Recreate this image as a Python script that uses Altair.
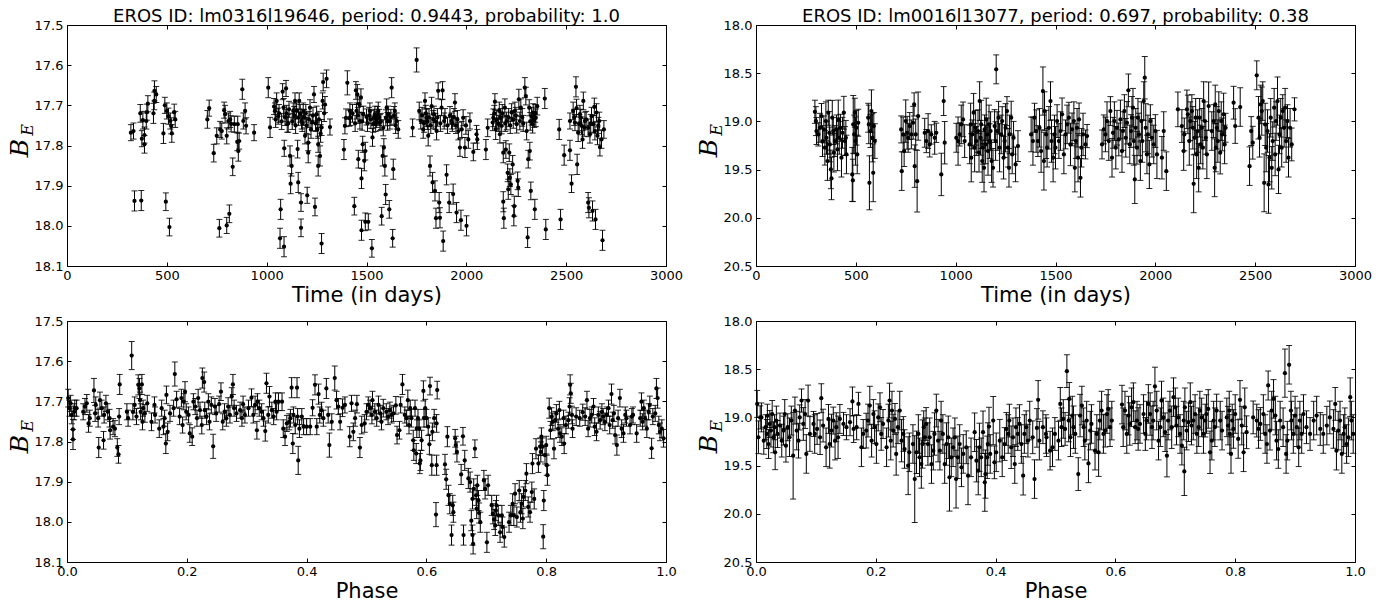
import altair as alt
import pandas as pd

# ---------------- top-left: lm0316l19646, time series ----------------
t_tl = [
    320, 333, 338, 367, 372, 375, 380, 388, 388, 397,
    400, 405, 433, 437, 438, 447, 483, 490, 495, 500,
    508, 513, 517, 522, 525, 537, 542, 703, 712, 735,
    750, 763, 767, 775, 787, 792, 800, 800, 808, 813,
    817, 822, 830, 838, 853, 855, 858, 862, 878, 883,
    892, 897, 937, 1008, 1017, 1037, 1042, 1050, 1058, 1067,
    1070, 1080, 1087, 1088, 1097, 1103, 1117, 1120, 1125, 1133,
    1142, 1150, 1155, 1158, 1163, 1172, 1172, 1175, 1183, 1192,
    1203, 1208, 1208, 1217, 1228, 1237, 1242, 1250, 1258, 1258,
    1267, 1275, 1275, 1280, 1283, 1292, 1300, 1317, 1045, 1062,
    1075, 1085, 1092, 1100, 1108, 1112, 1128, 1138, 1145, 1160,
    1168, 1178, 1187, 1196, 1200, 1212, 1222, 1232, 1245, 1254,
    1262, 1270, 1288, 1387, 1392, 1397, 1404, 1414, 1417, 1439,
    1447, 1450, 1454, 1459, 1464, 1467, 1472, 1475, 1475, 1481,
    1484, 1489, 1494, 1494, 1500, 1509, 1517, 1527, 1530, 1534,
    1542, 1551, 1559, 1567, 1576, 1581, 1584, 1587, 1592, 1596,
    1597, 1601, 1609, 1614, 1617, 1626, 1631, 1634, 1642, 1651,
    1659, 1420, 1430, 1443, 1457, 1478, 1505, 1513, 1522, 1538,
    1546, 1555, 1563, 1572, 1605, 1622, 1638, 1646, 1731, 1751,
    1764, 1772, 1784, 1793, 1801, 1809, 1818, 1826, 1831, 1838,
    1843, 1848, 1851, 1859, 1864, 1868, 1876, 1881, 1884, 1889,
    1901, 1914, 1926, 1934, 1943, 1951, 1960, 1968, 1973, 1984,
    1993, 2001, 2010, 2018, 2035, 2051, 2055, 1778, 1788, 1797,
    1805, 1813, 1822, 1834, 1845, 1855, 1870, 1893, 1906, 1918,
    1930, 1938, 1948, 1955, 1977, 1998, 2098, 2107, 2132, 2135,
    2143, 2147, 2165, 2168, 2177, 2185, 2185, 2188, 2193, 2198,
    2202, 2207, 2210, 2215, 2218, 2223, 2227, 2232, 2238, 2240,
    2243, 2252, 2257, 2260, 2263, 2268, 2273, 2293, 2298, 2302,
    2307, 2310, 2315, 2318, 2323, 2327, 2332, 2335, 2343, 2348,
    2355, 2393, 2398, 2140, 2152, 2160, 2172, 2180, 2195, 2212,
    2220, 2235, 2248, 2280, 2285, 2320, 2340, 2345, 2465, 2472,
    2490, 2519, 2519, 2527, 2535, 2544, 2549, 2552, 2555, 2560,
    2569, 2577, 2582, 2586, 2594, 2610, 2610, 2614, 2619, 2627,
    2632, 2636, 2641, 2644, 2647, 2652, 2657, 2666, 2669, 2677,
    2682, 2689, 2540, 2565, 2573, 2590, 2600, 2623, 2661,
]
m_tl = [
    17.768, 17.764, 17.938, 17.72, 17.937, 17.783, 17.737, 17.774, 17.797, 17.739,
    17.717, 17.696, 17.72, 17.689, 17.664, 17.673, 17.77, 17.70, 17.94, 17.714,
    17.727, 18.003, 17.739, 17.751, 17.77, 17.717, 17.735, 17.735, 17.707, 17.819,
    17.776, 18.006, 17.76, 17.764, 17.712, 17.722, 17.999, 17.776, 17.739, 17.97,
    17.735, 17.746, 17.853, 17.747, 17.791, 17.747, 17.814, 17.789, 17.66, 17.739,
    17.714, 17.751, 17.768, 17.656, 17.755, 17.703, 17.714, 17.689, 17.727, 18.031,
    17.959, 17.666, 18.052, 17.807, 17.658, 17.747, 17.826, 17.895, 17.851, 17.714,
    17.689, 17.714, 17.809, 17.892, 17.689, 17.942, 18.005, 17.739, 17.714, 17.776,
    17.924, 17.818, 17.793, 17.706, 17.743, 17.673, 17.953, 17.722, 17.797, 17.851,
    17.826, 18.044, 17.755, 17.689, 17.642, 17.698, 17.634, 17.754, 17.735, 17.72,
    17.74, 17.705, 17.73, 17.72, 17.745, 17.71, 17.74, 17.725, 17.75, 17.73,
    17.72, 17.745, 17.73, 17.72, 17.75, 17.735, 17.76, 17.725, 17.745, 17.76,
    17.735, 17.77, 17.72, 17.81, 17.751, 17.731, 17.644, 17.732, 17.714, 17.951,
    17.663, 17.714, 17.673, 17.834, 17.697, 17.739, 17.681, 17.882, 18.011, 17.797,
    17.722, 17.838, 17.814, 17.99, 17.729, 17.99, 17.714, 18.056, 17.78, 17.747,
    17.722, 17.735, 17.714, 17.743, 17.976, 17.826, 17.756, 17.805, 17.851, 17.922,
    17.731, 17.706, 17.722, 17.959, 17.739, 17.656, 18.031, 17.859, 17.714, 17.739,
    17.76, 17.73, 17.72, 17.745, 17.725, 17.74, 17.745, 17.725, 17.735, 17.73,
    17.745, 17.725, 17.73, 17.74, 17.74, 17.73, 17.725, 17.75, 17.756, 17.587,
    17.714, 17.739, 17.76, 17.689, 17.731, 17.776, 17.851, 17.702, 17.892, 17.722,
    17.913, 17.981, 17.764, 17.664, 17.942, 17.98, 17.706, 17.663, 18.038, 17.739,
    17.873, 17.942, 17.739, 17.921, 17.693, 17.967, 17.764, 17.805, 17.986, 17.731,
    17.805, 18.0, 17.785, 17.739, 17.816, 17.772, 17.785, 17.725, 17.745, 17.72,
    17.74, 17.73, 17.75, 17.735, 17.74, 17.73, 17.745, 17.73, 17.75, 17.725,
    17.745, 17.73, 17.75, 17.735, 17.76, 17.75, 17.81, 17.756, 17.743, 17.731,
    17.691, 17.76, 17.714, 17.772, 17.751, 17.818, 17.94, 17.981, 17.706, 17.81,
    17.739, 17.868, 17.909, 17.818, 17.88, 17.897, 17.718, 17.847, 17.975, 17.951,
    17.714, 17.747, 17.888, 17.905, 17.685, 17.739, 17.706, 17.656, 17.677, 17.764,
    18.029, 17.834, 17.706, 17.814, 17.913, 17.727, 17.747, 17.718, 17.959, 17.731,
    17.702, 17.683, 18.009, 17.72, 17.735, 17.745, 17.73, 17.72, 17.745, 17.73,
    17.75, 17.735, 17.725, 17.73, 17.745, 17.74, 17.735, 17.72, 17.76, 17.984,
    17.824, 17.812, 17.739, 17.895, 17.714, 17.743, 17.654, 17.707, 17.847, 17.768,
    17.722, 17.751, 17.785, 17.689, 17.739, 17.942, 17.756, 17.955, 17.772, 17.727,
    17.963, 17.747, 17.704, 17.764, 17.984, 17.718, 17.776, 17.739, 17.804, 17.785,
    18.036, 17.76, 17.73, 17.745, 17.73, 17.755, 17.735, 17.745, 17.75,
]
e_tl = [
    .02, .02, .025, .022, .025, .02, .022, .02, .022, .02,
    .02, .02, .025, .022, .025, .02, .025, .02, .022, .02,
    .02, .022, .02, .02, .022, .02, .02, .022, .02, .022,
    .02, .022, .02, .02, .02, .022, .02, .02, .02, .022,
    .02, .02, .022, .02, .022, .02, .025, .02, .025, .02,
    .02, .02, .02, .025, .025, .02, .02, .02, .02, .025,
    .025, .02, .025, .02, .02, .02, .025, .025, .025, .02,
    .02, .02, .022, .025, .02, .022, .022, .02, .02, .02,
    .02, .025, .02, .02, .02, .02, .022, .02, .02, .025,
    .025, .025, .02, .02, .022, .02, .022, .02, .02, .022,
    .02, .022, .02, .02, .022, .02, .02, .022, .02, .02,
    .022, .02, .02, .022, .02, .02, .022, .02, .02, .022,
    .02, .022, .02, .025, .02, .022, .03, .02, .02, .022,
    .022, .02, .025, .022, .02, .02, .022, .025, .025, .02,
    .02, .025, .022, .022, .02, .02, .02, .022, .022, .02,
    .02, .02, .022, .02, .022, .025, .02, .022, .025, .025,
    .02, .022, .02, .022, .02, .025, .022, .025, .02, .02,
    .022, .02, .022, .02, .02, .022, .02, .02, .022, .02,
    .02, .022, .02, .02, .022, .02, .022, .02, .022, .03,
    .022, .02, .022, .02, .022, .025, .025, .022, .025, .02,
    .025, .025, .022, .02, .025, .025, .02, .022, .025, .02,
    .025, .025, .02, .025, .022, .025, .022, .022, .025, .02,
    .025, .025, .022, .02, .022, .022, .025, .02, .022, .02,
    .02, .022, .02, .022, .02, .022, .02, .022, .02, .022,
    .02, .022, .02, .022, .02, .022, .025, .022, .02, .022,
    .02, .025, .022, .022, .02, .025, .025, .025, .022, .022,
    .022, .022, .025, .022, .022, .025, .022, .022, .025, .025,
    .022, .022, .022, .022, .025, .022, .022, .025, .022, .022,
    .025, .022, .02, .022, .022, .022, .022, .022, .025, .022,
    .022, .025, .025, .02, .022, .02, .022, .022, .02, .022,
    .02, .022, .02, .022, .02, .022, .02, .022, .025, .025,
    .025, .025, .02, .022, .022, .02, .025, .022, .025, .022,
    .022, .022, .022, .022, .022, .025, .022, .025, .022, .022,
    .025, .022, .022, .022, .025, .022, .022, .022, .022, .022,
    .025, .022, .02, .022, .02, .022, .02, .022, .02,
]

# ---------------- bottom-left: lm0316l19646, folded ----------------
p_bl = [
    0.002, 0.004, 0.006, 0.008, 0.010, 0.010, 0.012, 0.013, 0.016, 0.027,
    0.030, 0.033, 0.036, 0.038, 0.045, 0.047, 0.048, 0.052, 0.053, 0.055,
    0.058, 0.061, 0.062, 0.065, 0.068, 0.071, 0.072, 0.077, 0.080, 0.084,
    0.086, 0.087, 0.088, 0.100, 0.102, 0.108, 0.110, 0.113, 0.116, 0.119,
    0.121, 0.122, 0.123, 0.125, 0.126, 0.127, 0.130, 0.134, 0.141, 0.146,
    0.147, 0.154, 0.158, 0.161, 0.163, 0.165, 0.166, 0.168, 0.172, 0.178,
    0.180, 0.183, 0.188, 0.191, 0.193, 0.195, 0.197, 0.199, 0.203, 0.205,
    0.209, 0.211, 0.214, 0.217, 0.219, 0.222, 0.225, 0.226, 0.229, 0.230,
    0.233, 0.236, 0.238, 0.241, 0.244, 0.247, 0.249, 0.254, 0.257, 0.260,
    0.263, 0.266, 0.269, 0.272, 0.275, 0.277, 0.279, 0.283, 0.289, 0.292,
    0.294, 0.297, 0.303, 0.308, 0.311, 0.314, 0.317, 0.318, 0.321, 0.325,
    0.328, 0.331, 0.333, 0.336, 0.338, 0.342, 0.345, 0.348, 0.350, 0.353,
    0.359, 0.361, 0.364, 0.367, 0.371, 0.373, 0.375, 0.377, 0.378, 0.381,
    0.384, 0.385, 0.386, 0.388, 0.392, 0.395, 0.400, 0.406, 0.410, 0.414,
    0.417, 0.420, 0.422, 0.425, 0.428, 0.433, 0.436, 0.438, 0.442, 0.447,
    0.450, 0.453, 0.456, 0.460, 0.464, 0.472, 0.475, 0.478, 0.481, 0.484,
    0.489, 0.492, 0.497, 0.500, 0.503, 0.506, 0.509, 0.510, 0.514, 0.517,
    0.520, 0.523, 0.525, 0.528, 0.533, 0.536, 0.539, 0.542, 0.545, 0.549,
    0.551, 0.555, 0.557, 0.560, 0.564, 0.567, 0.569, 0.571, 0.573, 0.575,
    0.578, 0.579, 0.581, 0.583, 0.584, 0.586, 0.588, 0.589, 0.590, 0.592,
    0.595, 0.596, 0.598, 0.600, 0.603, 0.605, 0.606, 0.609, 0.610, 0.613,
    0.616, 0.617, 0.618, 0.617, 0.631, 0.633, 0.635, 0.637, 0.639, 0.642,
    0.644, 0.645, 0.648, 0.649, 0.651, 0.658, 0.661, 0.662, 0.664, 0.670,
    0.673, 0.675, 0.677, 0.677, 0.678, 0.679, 0.681, 0.683, 0.684, 0.685,
    0.687, 0.688, 0.690, 0.696, 0.698, 0.701, 0.703, 0.709, 0.711, 0.713,
    0.715, 0.716, 0.717, 0.720, 0.723, 0.726, 0.727, 0.730, 0.738, 0.741,
    0.744, 0.746, 0.748, 0.751, 0.755, 0.757, 0.759, 0.761, 0.762, 0.765,
    0.767, 0.770, 0.773, 0.776, 0.777, 0.780, 0.783, 0.787, 0.790, 0.791,
    0.792, 0.794, 0.795, 0.796, 0.798, 0.800, 0.801, 0.802, 0.805, 0.807,
    0.809, 0.811, 0.813, 0.815, 0.817, 0.820, 0.822, 0.823, 0.826, 0.829,
    0.830, 0.833, 0.837, 0.839, 0.840, 0.841, 0.843, 0.844, 0.850, 0.856,
    0.861, 0.865, 0.868, 0.870, 0.873, 0.876, 0.879, 0.881, 0.884, 0.887,
    0.890, 0.893, 0.895, 0.898, 0.901, 0.904, 0.906, 0.909, 0.911, 0.913,
    0.915, 0.918, 0.920, 0.923, 0.926, 0.929, 0.932, 0.934, 0.940, 0.943,
    0.945, 0.951, 0.957, 0.959, 0.961, 0.963, 0.965, 0.968, 0.971, 0.973,
    0.976, 0.978, 0.982, 0.984, 0.986, 0.988, 0.990, 0.993, 0.996,
]
m_bl = [
    17.692, 17.717, 17.705, 17.734, 17.77, 17.795, 17.726, 17.717, 17.717, 17.726,
    17.713, 17.705, 17.755, 17.742, 17.673, 17.73, 17.709, 17.742, 17.815, 17.697,
    17.717, 17.797, 17.734, 17.705, 17.726, 17.742, 17.772, 17.763, 17.768, 17.815,
    17.832, 17.738, 17.658, 17.726, 17.742, 17.586, 17.726, 17.709, 17.738, 17.659,
    17.668, 17.697, 17.726, 17.658, 17.751, 17.717, 17.73, 17.705, 17.751, 17.709,
    17.734, 17.768, 17.717, 17.763, 17.742, 17.805, 17.684, 17.776, 17.73, 17.717,
    17.632, 17.695, 17.738, 17.692, 17.759, 17.701, 17.676, 17.726, 17.734, 17.78,
    17.788, 17.701, 17.713, 17.742, 17.692, 17.722, 17.759, 17.642, 17.652, 17.722,
    17.738, 17.701, 17.751, 17.709, 17.812, 17.713, 17.73, 17.707, 17.676, 17.751,
    17.726, 17.742, 17.713, 17.734, 17.688, 17.658, 17.717, 17.73, 17.722, 17.742,
    17.707, 17.734, 17.717, 17.691, 17.734, 17.709, 17.772, 17.701, 17.717, 17.726,
    17.742, 17.774, 17.655, 17.734, 17.688, 17.722, 17.738, 17.701, 17.726, 17.701,
    17.701, 17.768, 17.788, 17.755, 17.751, 17.742, 17.666, 17.805, 17.734, 17.759,
    17.666, 17.738, 17.847, 17.768, 17.738, 17.763, 17.763, 17.763, 17.716, 17.659,
    17.763, 17.682, 17.734, 17.722, 17.742, 17.668, 17.734, 17.809, 17.751, 17.642,
    17.697, 17.713, 17.751, 17.716, 17.709, 17.788, 17.705, 17.776, 17.742, 17.707,
    17.815, 17.759, 17.755, 17.726, 17.709, 17.717, 17.734, 17.697, 17.726, 17.742,
    17.709, 17.73, 17.751, 17.717, 17.726, 17.738, 17.722, 17.734, 17.73, 17.71,
    17.784, 17.772, 17.709, 17.658, 17.734, 17.742, 17.697, 17.759, 17.717, 17.742,
    17.797, 17.822, 17.717, 17.83, 17.768, 17.742, 17.768, 17.855, 17.847, 17.797,
    17.674, 17.742, 17.717, 17.742, 17.763, 17.807, 17.662, 17.859, 17.776, 17.742,
    17.982, 17.859, 17.672, 17.755, 17.857, 17.894, 17.788, 17.934, 17.955, 18.033,
    17.959, 17.976, 17.792, 17.809, 17.826, 17.882, 17.787, 18.033, 17.847, 17.892,
    17.901, 17.997, 18.033, 17.943, 18.055, 17.918, 17.818, 17.934, 17.967, 17.909,
    17.947, 17.978, 18.001, 17.897, 17.918, 18.051, 17.909, 17.959, 17.98, 17.994,
    18.009, 17.972, 17.959, 17.984, 18.026, 17.984, 18.013, 18.038, 18.001, 17.984,
    17.955, 17.984, 17.93, 17.988, 17.922, 17.976, 17.955, 17.992, 17.938, 17.922,
    17.88, 17.963, 17.976, 17.926, 17.855, 17.943, 17.818, 17.855, 17.813, 17.826,
    17.788, 17.813, 18.037, 17.947, 17.834, 17.809, 17.859, 17.884, 17.717, 17.772,
    17.738, 17.751, 17.818, 17.747, 17.73, 17.768, 17.722, 17.78, 17.788, 17.742,
    17.805, 17.759, 17.747, 17.713, 17.659, 17.68, 17.734, 17.768, 17.738, 17.742,
    17.727, 17.738, 17.697, 17.768, 17.742, 17.734, 17.713, 17.763, 17.776, 17.734,
    17.747, 17.726, 17.738, 17.751, 17.734, 17.717, 17.759, 17.682, 17.747, 17.73,
    17.784, 17.809, 17.742, 17.692, 17.768, 17.78, 17.734, 17.742, 17.759, 17.738,
    17.734, 17.78, 17.742, 17.701, 17.751, 17.717, 17.742, 17.768, 17.726, 17.709,
    17.817, 17.738, 17.73, 17.668, 17.692, 17.759, 17.776, 17.768, 17.792,
]
e_bl = [
    .022, .02, .02, .022, .025, .025, .02, .02, .02, .02,
    .02, .022, .022, .02, .03, .02, .02, .022, .025, .02,
    .02, .022, .02, .02, .02, .022, .022, .02, .02, .022,
    .022, .02, .025, .02, .02, .035, .02, .02, .02, .025,
    .025, .02, .02, .025, .02, .02, .022, .02, .022, .02,
    .02, .022, .02, .02, .02, .025, .022, .022, .02, .02,
    .03, .02, .02, .022, .02, .02, .025, .02, .02, .022,
    .022, .02, .02, .02, .022, .02, .022, .025, .025, .02,
    .02, .02, .02, .02, .03, .02, .02, .02, .022, .02,
    .02, .02, .022, .02, .022, .025, .02, .02, .02, .02,
    .02, .02, .02, .022, .02, .022, .022, .02, .02, .02,
    .02, .025, .025, .02, .025, .02, .02, .022, .02, .022,
    .022, .022, .022, .02, .02, .022, .025, .025, .02, .022,
    .025, .02, .035, .022, .02, .02, .02, .02, .02, .025,
    .02, .025, .02, .02, .02, .025, .02, .03, .02, .03,
    .022, .02, .02, .022, .02, .025, .02, .022, .02, .022,
    .025, .022, .022, .02, .02, .02, .022, .022, .02, .02,
    .022, .02, .02, .022, .02, .02, .02, .02, .02, .022,
    .022, .022, .02, .025, .02, .02, .025, .022, .02, .022,
    .025, .025, .02, .025, .022, .022, .022, .025, .025, .025,
    .025, .022, .022, .022, .022, .025, .022, .025, .022, .022,
    .03, .025, .022, .022, .025, .025, .025, .025, .025, .025,
    .025, .025, .022, .022, .025, .025, .022, .025, .025, .025,
    .025, .025, .025, .025, .025, .025, .022, .025, .025, .025,
    .025, .025, .025, .025, .025, .025, .025, .025, .025, .025,
    .025, .025, .025, .025, .025, .025, .025, .025, .025, .025,
    .025, .025, .025, .025, .025, .025, .025, .025, .025, .025,
    .025, .025, .025, .025, .025, .025, .025, .022, .022, .025,
    .022, .022, .03, .025, .022, .022, .025, .025, .025, .022,
    .022, .022, .025, .022, .022, .022, .022, .022, .022, .02,
    .025, .022, .02, .022, .025, .025, .022, .022, .022, .02,
    .02, .022, .022, .02, .022, .02, .02, .022, .022, .02,
    .022, .02, .02, .022, .02, .02, .022, .025, .02, .02,
    .022, .025, .02, .022, .022, .022, .02, .02, .022, .02,
    .02, .022, .02, .022, .02, .02, .02, .022, .02, .022,
    .025, .02, .02, .025, .025, .022, .022, .022, .022,
]

# ---------------- top-right: lm0016l13077, time series ----------------
t_tr = [
    295, 300, 303, 312, 320, 328, 333, 340, 345, 350,
    353, 358, 362, 367, 370, 375, 378, 382, 387, 390,
    395, 403, 408, 412, 417, 423, 428, 433, 440, 445,
    450, 453, 482, 485, 487, 492, 495, 498, 503, 507,
    512, 562, 565, 568, 573, 578, 583, 587, 590, 595,
    727, 730, 737, 742, 750, 757, 762, 770, 778, 787,
    792, 795, 800, 807, 812, 845, 853, 862, 870, 878,
    895, 903, 928, 940, 945, 1003, 1012, 1020, 1028, 1037,
    1045, 1070, 1075, 1078, 1083, 1090, 1095, 1100, 1103, 1112,
    1117, 1120, 1125, 1128, 1133, 1137, 1142, 1145, 1150, 1153,
    1158, 1162, 1167, 1170, 1175, 1180, 1187, 1195, 1200, 1203,
    1208, 1215, 1220, 1228, 1233, 1240, 1245, 1250, 1257, 1262,
    1267, 1270, 1278, 1283, 1290, 1300, 1312, 1378, 1387, 1395,
    1403, 1412, 1420, 1428, 1437, 1442, 1445, 1453, 1458, 1467,
    1475, 1480, 1488, 1495, 1500, 1508, 1517, 1525, 1533, 1542,
    1550, 1558, 1567, 1575, 1583, 1592, 1597, 1602, 1608, 1613,
    1618, 1625, 1630, 1638, 1650, 1658, 1733, 1742, 1750, 1758,
    1767, 1775, 1783, 1788, 1795, 1802, 1808, 1817, 1825, 1833,
    1838, 1845, 1852, 1858, 1865, 1872, 1878, 1883, 1888, 1892,
    1897, 1902, 1908, 1913, 1918, 1925, 1930, 1935, 1942, 1947,
    1952, 1958, 1963, 1970, 1975, 1983, 1992, 2000, 2008, 2033,
    2042, 2055, 2113, 2133, 2142, 2145, 2158, 2163, 2170, 2175,
    2183, 2188, 2192, 2197, 2202, 2207, 2212, 2217, 2222, 2227,
    2233, 2238, 2242, 2248, 2253, 2258, 2267, 2283, 2292, 2297,
    2300, 2303, 2308, 2313, 2318, 2325, 2330, 2335, 2342, 2347,
    2352, 2392, 2400, 2425, 2472, 2480, 2488, 2508, 2517, 2522,
    2528, 2533, 2538, 2545, 2550, 2555, 2562, 2567, 2572, 2578,
    2583, 2588, 2595, 2600, 2605, 2612, 2617, 2622, 2628, 2633,
    2638, 2645, 2650, 2655, 2662, 2667, 2675, 2683, 2697,
]
m_tr = [
    18.9, 18.997, 19.1, 19.135, 19.066, 18.945, 19.204, 19.083, 19.273, 18.997,
    19.17, 19.412, 18.91, 19.118, 19.239, 19.498, 19.592, 18.962, 19.1, 19.325,
    19.204, 19.083, 19.291, 18.979, 19.17, 19.066, 19.377, 19.118, 18.91, 19.204,
    19.17, 19.343, 19.55, 19.612, 19.031, 19.135, 18.91, 19.204, 19.066, 19.343,
    19.014, 18.962, 19.031, 19.637, 19.1, 18.893, 19.17, 19.533, 19.048, 19.204,
    19.083, 19.516, 19.135, 19.308, 18.997, 19.118, 19.17, 19.048, 19.135, 19.014,
    18.824, 19.464, 19.135, 19.62, 18.945, 19.118, 19.204, 19.1, 19.239, 19.135,
    19.17, 19.118, 19.55, 18.789, 19.221, 19.17, 19.204, 19.135, 19.031, 18.979,
    19.204, 19.239, 19.031, 19.377, 19.135, 18.91, 19.273, 19.066, 19.204, 19.1,
    19.325, 18.789, 19.17, 19.031, 19.412, 19.273, 19.481, 19.083, 19.239, 18.979,
    19.135, 19.308, 19.031, 19.204, 19.1, 19.412, 19.481, 19.048, 19.204, 18.46,
    19.1, 18.962, 19.273, 19.135, 18.997, 19.377, 19.204, 19.066, 18.893, 19.273,
    19.481, 19.135, 18.962, 19.343, 19.17, 19.446, 19.256, 19.135, 19.204, 18.962,
    19.1, 19.204, 19.066, 19.308, 18.685, 19.412, 18.893, 19.135, 19.273, 19.066,
    18.789, 19.204, 19.377, 19.135, 19.273, 18.997, 19.204, 19.1, 18.927, 19.343,
    19.135, 19.031, 18.962, 19.239, 19.083, 18.997, 19.481, 19.204, 19.066, 19.377,
    18.979, 19.585, 19.273, 19.135, 19.239, 19.152, 19.239, 19.083, 19.135, 18.997,
    19.204, 18.893, 19.377, 19.118, 18.997, 19.273, 19.066, 19.187, 18.979, 19.308,
    19.1, 18.893, 19.17, 19.014, 18.678, 19.239, 19.1, 18.962, 18.858, 19.204,
    19.602, 19.066, 19.273, 18.962, 19.135, 19.412, 18.997, 19.204, 18.789, 18.547,
    19.066, 19.343, 19.135, 19.446, 18.997, 19.17, 19.239, 19.1, 19.343, 19.377,
    19.1, 19.516, 18.875, 19.048, 19.308, 19.135, 18.875, 18.927, 19.204, 18.997,
    18.893, 19.066, 19.647, 19.17, 18.962, 19.343, 19.1, 19.481, 18.962, 19.239,
    19.066, 19.273, 18.789, 18.997, 19.17, 19.343, 18.841, 19.1, 18.997, 19.481,
    18.824, 19.273, 19.066, 19.204, 18.893, 19.325, 18.997, 19.135, 18.927, 19.239,
    19.066, 18.806, 19.048, 18.851, 19.464, 19.1, 19.221, 18.522, 18.962, 19.17,
    18.824, 18.893, 18.789, 19.637, 19.031, 19.273, 19.1, 19.654, 19.377, 18.962,
    19.481, 19.204, 18.858, 19.343, 18.997, 18.789, 19.498, 19.135, 18.962, 19.273,
    18.893, 19.066, 18.858, 19.204, 18.997, 19.377, 19.066, 19.239, 18.875,
]
e_tr = [
    .12, .15, .14, .12, .15, .13, .16, .14, .18, .2,
    .17, .2, .13, .22, .18, .2, .22, .18, .14, .2,
    .16, .15, .22, .2, .17, .14, .2, .16, .17, .15,
    .18, .2, .28, .22, .3, .2, .15, .25, .18, .2,
    .14, .15, .2, .28, .17, .22, .25, .3, .14, .18,
    .14, .2, .18, .16, .22, .17, .15, .14, .15, .17,
    .12, .22, .16, .32, .25, .15, .12, .18, .13, .1,
    .17, .1, .22, .15, .22, .15, .25, .12, .2, .18,
    .17, .2, .22, .25, .15, .2, .25, .18, .15, .22,
    .2, .2, .18, .25, .22, .17, .25, .15, .2, .22,
    .17, .25, .2, .18, .2, .22, .2, .17, .2, .15,
    .2, .17, .25, .2, .15, .22, .17, .25, .15, .2,
    .2, .2, .17, .2, .17, .18, .16, .18, .25, .15,
    .22, .16, .2, .22, .25, .3, .2, .25, .2, .22,
    .2, .22, .25, .2, .22, .17, .18, .2, .17, .2,
    .15, .2, .16, .22, .17, .2, .25, .18, .2, .25,
    .17, .2, .2, .22, .15, .12, .15, .15, .18, .2,
    .2, .15, .2, .16, .2, .22, .18, .17, .2, .22,
    .2, .17, .2, .22, .17, .2, .17, .22, .2, .25,
    .25, .2, .17, .2, .22, .2, .2, .22, .2, .22,
    .25, .2, .2, .25, .17, .2, .2, .17, .25, .22,
    .2, .2, .18, .17, .2, .17, .2, .2, .25, .2,
    .17, .22, .3, .17, .2, .25, .22, .25, .2, .2,
    .2, .22, .2, .2, .17, .25, .25, .2, .17, .3,
    .2, .25, .22, .22, .2, .22, .2, .17, .22, .2,
    .15, .17, .18, .2, .2, .15, .17, .15, .22, .2,
    .2, .25, .2, .3, .22, .25, .22, .3, .25, .2,
    .22, .2, .2, .22, .2, .25, .25, .2, .2, .2,
    .17, .2, .2, .22, .17, .2, .2, .17, .12,
]

# ---------------- bottom-right: lm0016l13077, folded ----------------
p_br = [
    0.002, 0.004, 0.007, 0.009, 0.013, 0.016, 0.018, 0.019, 0.021, 0.023,
    0.025, 0.027, 0.029, 0.031, 0.032, 0.034, 0.036, 0.040, 0.043, 0.046,
    0.048, 0.050, 0.053, 0.056, 0.059, 0.062, 0.065, 0.068, 0.071, 0.073,
    0.076, 0.079, 0.082, 0.084, 0.087, 0.090, 0.096, 0.098, 0.102, 0.107,
    0.109, 0.112, 0.117, 0.121, 0.123, 0.126, 0.129, 0.132, 0.134, 0.137,
    0.140, 0.146, 0.151, 0.157, 0.161, 0.163, 0.168, 0.171, 0.176, 0.179,
    0.184, 0.187, 0.190, 0.193, 0.196, 0.198, 0.201, 0.204, 0.207, 0.209,
    0.212, 0.218, 0.221, 0.223, 0.225, 0.227, 0.229, 0.232, 0.234, 0.237,
    0.240, 0.243, 0.246, 0.248, 0.254, 0.256, 0.262, 0.265, 0.268, 0.271,
    0.273, 0.276, 0.278, 0.280, 0.282, 0.284, 0.287, 0.290, 0.293, 0.296,
    0.298, 0.301, 0.304, 0.307, 0.309, 0.312, 0.315, 0.318, 0.321, 0.323,
    0.326, 0.329, 0.332, 0.334, 0.337, 0.340, 0.343, 0.346, 0.351, 0.354,
    0.359, 0.365, 0.368, 0.371, 0.373, 0.376, 0.379, 0.382, 0.383, 0.386,
    0.387, 0.389, 0.391, 0.396, 0.398, 0.401, 0.407, 0.411, 0.415, 0.418,
    0.421, 0.423, 0.426, 0.429, 0.432, 0.434, 0.437, 0.440, 0.443, 0.446,
    0.448, 0.451, 0.454, 0.457, 0.462, 0.465, 0.469, 0.471, 0.473, 0.479,
    0.484, 0.485, 0.491, 0.495, 0.499, 0.505, 0.508, 0.510, 0.513, 0.516,
    0.519, 0.522, 0.523, 0.525, 0.528, 0.530, 0.533, 0.538, 0.541, 0.544,
    0.547, 0.549, 0.552, 0.555, 0.558, 0.560, 0.566, 0.569, 0.572, 0.574,
    0.577, 0.580, 0.583, 0.586, 0.588, 0.591, 0.594, 0.611, 0.613, 0.616,
    0.619, 0.622, 0.624, 0.627, 0.630, 0.633, 0.636, 0.638, 0.641, 0.647,
    0.650, 0.652, 0.655, 0.658, 0.661, 0.663, 0.666, 0.669, 0.672, 0.675,
    0.677, 0.680, 0.683, 0.686, 0.688, 0.691, 0.694, 0.697, 0.700, 0.702,
    0.705, 0.708, 0.711, 0.714, 0.715, 0.716, 0.719, 0.722, 0.725, 0.727,
    0.730, 0.733, 0.736, 0.739, 0.741, 0.744, 0.747, 0.750, 0.752, 0.755,
    0.758, 0.761, 0.764, 0.766, 0.769, 0.775, 0.778, 0.786, 0.788, 0.790,
    0.791, 0.793, 0.795, 0.797, 0.800, 0.805, 0.808, 0.811, 0.814, 0.816,
    0.819, 0.830, 0.836, 0.839, 0.842, 0.847, 0.850, 0.853, 0.855, 0.858,
    0.861, 0.864, 0.867, 0.869, 0.872, 0.875, 0.880, 0.883, 0.885, 0.887,
    0.890, 0.893, 0.894, 0.897, 0.900, 0.903, 0.906, 0.908, 0.911, 0.914,
    0.919, 0.925, 0.931, 0.936, 0.942, 0.947, 0.953, 0.958, 0.964, 0.967,
    0.969, 0.972, 0.975, 0.978, 0.981, 0.983, 0.986, 0.989, 0.992, 0.994,
    0.997,
]
m_br = [
    18.86, 19.206, 19.0, 19.0, 19.241, 19.102, 19.172, 18.983, 19.276, 19.068,
    19.137, 18.965, 19.206, 19.102, 19.362, 19.033, 19.172, 19.085, 19.241, 19.137,
    18.965, 19.293, 19.102, 19.206, 19.033, 19.397, 18.929, 19.137, 19.241, 19.0,
    18.825, 19.068, 18.965, 19.379, 18.825, 19.172, 19.068, 19.172, 19.12, 19.206,
    18.801, 19.085, 19.31, 19.016, 19.276, 19.137, 19.033, 19.241, 19.102, 19.206,
    19.016, 19.068, 19.102, 19.05, 18.835, 19.12, 19.102, 18.86, 19.31, 19.172,
    19.137, 19.033, 18.877, 19.241, 18.965, 19.102, 19.276, 19.0, 18.895, 19.172,
    19.068, 19.31, 19.033, 18.825, 19.241, 18.929, 19.137, 19.016, 19.379, 19.102,
    18.929, 19.241, 19.172, 19.328, 19.501, 19.362, 19.276, 19.64, 19.362, 19.172,
    19.414, 19.484, 19.276, 19.102, 19.206, 19.068, 19.276, 19.206, 19.484, 19.345,
    19.172, 18.929, 19.241, 19.345, 19.033, 19.172, 19.484, 19.276, 19.206, 19.622,
    19.414, 19.31, 19.206, 19.64, 19.414, 19.276, 19.518, 19.379, 19.31, 19.605,
    19.414, 19.154, 19.449, 19.553, 19.31, 19.414, 19.154, 19.674, 19.588, 19.414,
    19.276, 19.095, 19.379, 19.033, 19.466, 19.362, 19.241, 19.414, 19.276, 19.12,
    19.172, 19.033, 19.31, 19.206, 19.484, 19.102, 19.172, 19.068, 19.276, 19.605,
    19.172, 19.102, 19.241, 19.033, 19.206, 19.64, 19.109, 18.818, 19.241, 19.102,
    19.172, 19.206, 19.345, 19.31, 19.172, 19.241, 18.86, 19.102, 19.016, 19.12,
    18.52, 19.033, 18.808, 19.206, 18.981, 19.102, 19.172, 19.588, 18.981, 18.877,
    19.102, 19.241, 19.033, 19.477, 19.137, 19.068, 19.345, 19.172, 19.362, 19.033,
    18.929, 19.172, 19.137, 18.965, 18.912, 19.102, 19.033, 18.867, 19.102, 18.929,
    19.172, 18.981, 19.068, 18.895, 18.842, 19.102, 19.033, 19.12, 19.068, 18.965,
    19.172, 19.033, 18.86, 18.965, 19.102, 19.033, 18.679, 18.929, 19.241, 19.102,
    18.825, 19.0, 19.154, 19.397, 19.033, 18.929, 19.102, 18.79, 18.895, 19.085,
    19.0, 19.172, 19.293, 19.033, 19.56, 18.895, 19.137, 19.05, 18.842, 19.085,
    19.033, 18.965, 19.172, 19.102, 18.929, 19.0, 19.172, 19.033, 18.965, 18.912,
    19.362, 19.241, 19.033, 19.102, 18.929, 19.033, 19.137, 19.0, 19.085, 18.929,
    19.172, 19.379, 19.033, 19.12, 18.965, 19.224, 18.818, 19.085, 19.362, 18.895,
    19.154, 19.0, 19.033, 19.12, 19.068, 18.965, 19.172, 19.276, 18.669, 19.137,
    18.929, 18.808, 18.981, 19.241, 19.328, 19.033, 19.102, 18.541, 19.379, 19.241,
    18.454, 18.929, 19.033, 19.172, 18.981, 19.102, 19.31, 19.033, 19.172, 18.965,
    19.102, 19.172, 19.033, 18.981, 19.12, 19.172, 19.085, 19.0, 19.12, 18.86,
    19.345, 19.137, 19.033, 19.379, 19.172, 19.102, 19.276, 19.206, 18.79, 19.033,
    19.172,
]
e_br = [
    .14, .17, .12, .15, .14, .13, .15, .12, .15, .14,
    .17, .14, .16, .13, .18, .15, .14, .13, .17, .15,
    .15, .17, .14, .2, .15, .45, .14, .2, .18, .13,
    .12, .17, .15, .2, .16, .18, .13, .2, .16, .18,
    .15, .17, .2, .15, .25, .17, .14, .2, .15, .22,
    .15, .12, .13, .14, .15, .14, .13, .12, .2, .15,
    .18, .17, .2, .17, .15, .17, .2, .14, .15, .17,
    .15, .2, .17, .18, .2, .2, .17, .16, .22, .17,
    .2, .22, .18, .2, .3, .2, .2, .45, .22, .2,
    .2, .25, .25, .17, .2, .17, .22, .2, .2, .2,
    .22, .17, .22, .2, .2, .2, .2, .22, .22, .35,
    .2, .2, .2, .3, .22, .2, .2, .2, .17, .3,
    .2, .2, .22, .25, .25, .2, .22, .3, .25, .22,
    .22, .2, .2, .25, .17, .2, .22, .2, .17, .17,
    .2, .17, .22, .2, .2, .2, .17, .2, .2, .2,
    .2, .17, .17, .2, .17, .2, .2, .2, .2, .17,
    .2, .2, .2, .2, .17, .2, .17, .2, .2, .17,
    .17, .22, .17, .2, .2, .22, .2, .17, .22, .2,
    .2, .2, .2, .2, .2, .2, .2, .2, .25, .2,
    .2, .2, .17, .2, .2, .2, .2, .2, .2, .2,
    .2, .2, .22, .2, .2, .17, .2, .22, .2, .2,
    .17, .2, .2, .22, .22, .2, .2, .2, .2, .2,
    .2, .2, .2, .22, .2, .2, .22, .2, .2, .2,
    .2, .2, .2, .2, .25, .2, .2, .2, .2, .2,
    .2, .2, .2, .2, .2, .2, .2, .17, .2, .2,
    .22, .2, .2, .2, .17, .2, .2, .2, .2, .2,
    .2, .2, .17, .2, .2, .2, .2, .2, .2, .2,
    .17, .17, .17, .2, .17, .2, .2, .2, .15, .2,
    .2, .2, .2, .2, .2, .2, .2, .25, .2, .2,
    .2, .2, .2, .2, .2, .2, .2, .2, .2, .2,
    .17, .17, .2, .2, .17, .2, .2, .17, .2, .17,
    .2, .2, .2, .2, .2, .2, .2, .2, .2, .2,
    .2,
]

title_left = "EROS ID: lm0316l19646, period: 0.9443, probability: 1.0"
title_right = "EROS ID: lm0016l13077, period: 0.697, probability: 0.38"
ticks_time = [0, 500, 1000, 1500, 2000, 2500, 3000]
ticks_phase = [0.0, 0.2, 0.4, 0.6, 0.8, 1.0]
ticks_mag_left = [17.5, 17.6, 17.7, 17.8, 17.9, 18.0, 18.1]
ticks_mag_right = [18.0, 18.5, 19.0, 19.5, 20.0, 20.5]

W, H = 599, 241
FONT = "DejaVu Sans"
TICK = 4


def panel(xs, ms, es, xdom, ydom, xticks, yticks, xfmt, xtitle, title=None):
    n = min(len(xs), len(ms), len(es))
    df = pd.DataFrame({
        "x": xs[:n],
        "m": ms[:n],
        "lo": [ms[i] - es[i] for i in range(n)],
        "hi": [ms[i] + es[i] for i in range(n)],
    })
    xsc = alt.Scale(domain=xdom, nice=False, zero=False)
    ysc = alt.Scale(domain=ydom, nice=False, zero=False, reverse=True)

    ax_b = alt.Axis(orient="bottom", values=xticks, format=xfmt, title=xtitle,
                    titleFont=FONT, titleFontSize=21, titleFontWeight="normal",
                    titleColor="black", titlePadding=2,
                    labelFont=FONT, labelFontSize=13, labelColor="black",
                    labelPadding=3, labelFlush=False, labelOverlap=False,
                    tickSize=TICK, tickColor="black", tickWidth=1,
                    offset=-TICK, domain=False, grid=False)
    ax_l = alt.Axis(orient="left", values=yticks, format=".1f", title=None,
                    labelFont=FONT, labelFontSize=13, labelColor="black",
                    labelPadding=4, labelFlush=False, labelOverlap=False,
                    tickSize=TICK, tickColor="black", tickWidth=1,
                    offset=-TICK, domain=False, grid=False)
    ax_t = alt.Axis(orient="top", values=xticks, labels=False, title=None,
                    tickSize=TICK, tickColor="black", tickWidth=1,
                    offset=-TICK, domain=False, grid=False)
    ax_r = alt.Axis(orient="right", values=yticks, labels=False, title=None,
                    tickSize=TICK, tickColor="black", tickWidth=1,
                    offset=-TICK, domain=False, grid=False)

    base = alt.Chart(df)
    bars = base.mark_rule(color="black", strokeWidth=1, opacity=1).encode(
        x=alt.X("x:Q", scale=xsc, axis=ax_b),
        y=alt.Y("lo:Q", scale=ysc, axis=ax_l),
        y2="hi:Q",
    )
    cap_lo = base.mark_tick(color="black", orient="horizontal", size=6,
                            thickness=1, opacity=0.85).encode(
        x=alt.X("x:Q", scale=xsc, axis=ax_t),
        y=alt.Y("lo:Q", scale=ysc, axis=ax_r),
    )
    cap_hi = base.mark_tick(color="black", orient="horizontal", size=6,
                            thickness=1, opacity=0.85).encode(
        x=alt.X("x:Q", scale=xsc, axis=None),
        y=alt.Y("hi:Q", scale=ysc, axis=None),
    )
    pts = base.mark_circle(color="black", size=18, opacity=1).encode(
        x=alt.X("x:Q", scale=xsc, axis=None),
        y=alt.Y("m:Q", scale=ysc, axis=None),
    )
    one = pd.DataFrame({"k": [0]})
    lab_b = alt.Chart(one).mark_text(
        text="B", font="DejaVu Serif", fontStyle="italic", fontSize=25,
        angle=270, align="center", baseline="middle", color="black",
    ).encode(x=alt.value(-47), y=alt.value(123))
    lab_e = alt.Chart(one).mark_text(
        text="E", font="DejaVu Serif", fontStyle="italic", fontSize=16,
        angle=270, align="center", baseline="middle", color="black",
    ).encode(x=alt.value(-39), y=alt.value(105))
    layers = [bars, cap_lo, cap_hi, pts, lab_b, lab_e]
    if title:
        layers.append(alt.Chart(one).mark_text(
            text=title, font=FONT, fontSize=18, align="center",
            baseline="alphabetic", color="black",
        ).encode(x=alt.value(W / 2), y=alt.value(-3.5)))

    ch = alt.layer(*layers).resolve_axis(x="independent", y="independent")
    return ch.properties(width=W, height=H)


p1 = panel(t_tl, m_tl, e_tl, [0, 3000], [17.5, 18.1], ticks_time,
           ticks_mag_left, "d", "Time (in days)", title_left)
p2 = panel(t_tr, m_tr, e_tr, [0, 3000], [18.0, 20.5], ticks_time,
           ticks_mag_right, "d", "Time (in days)", title_right)
p3 = panel(p_bl, m_bl, e_bl, [0, 1], [17.5, 18.1], ticks_phase,
           ticks_mag_left, ".1f", "Phase")
p4 = panel(p_br, m_br, e_br, [0, 1], [18.0, 20.5], ticks_phase,
           ticks_mag_right, ".1f", "Phase")

chart = alt.concat(
    p1, p2, p3, p4, columns=2,
    spacing=alt.RowColnumber(row=55, column=90), bounds="flush",
).properties(
    autosize=alt.AutoSizeParams(type="none"),
    padding={"left": 59, "top": 17, "right": 1319, "bottom": 603},
    background="white",
).configure(
    font=FONT,
    view=alt.ViewConfig(stroke="black", strokeWidth=1),
)

chart.save("out.html", embed_options={"renderer": "svg", "actions": False})
